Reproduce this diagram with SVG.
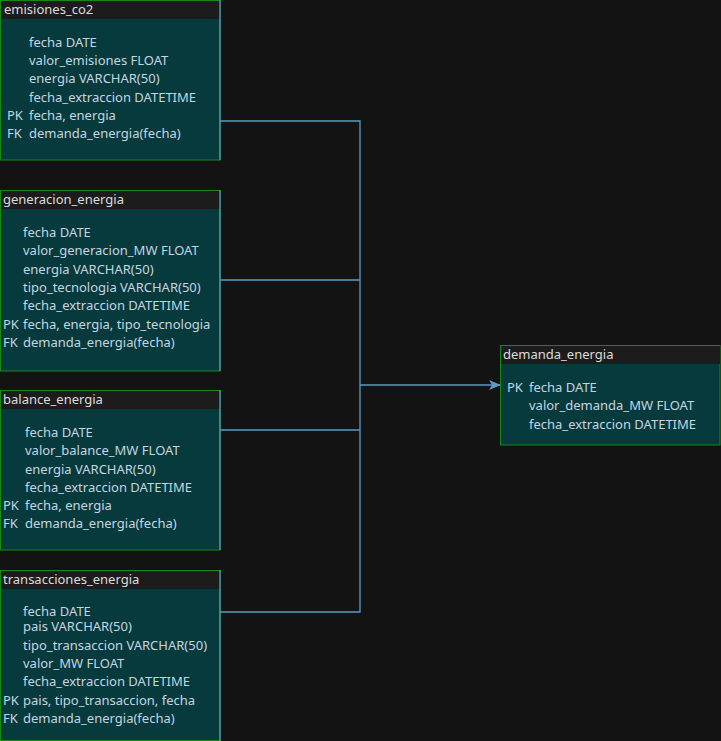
<svg xmlns="http://www.w3.org/2000/svg" width="721" height="741" viewBox="0 0 721 741">
<style>
.body{fill:#073a3d;stroke:#168a16;stroke-width:1}
.hdr{fill:#1c1c1c}
.t{font-family:"Noto Sans","DejaVu Sans",sans-serif;font-size:13px;fill:#c5d5e0}
.h{font-family:"Noto Sans","DejaVu Sans",sans-serif;font-size:13px;fill:#dcdcdc}
.c{fill:none;stroke:#5a9bc4;stroke-width:1.3}
</style>
<defs>
<marker id="arr" markerWidth="13" markerHeight="12" refX="12" refY="6" orient="auto" markerUnits="userSpaceOnUse">
<path d="M0,1 L12,6 L0,11 L3,6 Z" fill="#5a9bc4"/>
</marker>
</defs>
<rect width="721" height="741" fill="#131313"/>
<g id="connectors">
<path class="c" d="M220,121 H360 V612 H220"/>
<path class="c" d="M220,280 H360"/>
<path class="c" d="M220,430 H360"/>
<path class="c" d="M360,385 H501" marker-end="url(#arr)"/>
</g>
<g id="emisiones_co2">
<rect class="body" x="0.5" y="0.5" width="219.5" height="159.5"/>
<rect class="hdr" x="1" y="1" width="219" height="18"/>
<line class="c" x1="220" y1="0" x2="220" y2="160"/>
<text class="h" x="4" y="14">emisiones_co2</text>
<text class="t" x="29" y="47">fecha DATE</text>
<text class="t" x="29" y="65">valor_emisiones FLOAT</text>
<text class="t" x="29" y="83">energia VARCHAR(50)</text>
<text class="t" x="29" y="102">fecha_extraccion DATETIME</text>
<text class="t" x="7" y="120">PK</text><text class="t" x="29" y="120">fecha, energia</text>
<text class="t" x="7" y="138">FK</text><text class="t" x="29" y="138">demanda_energia(fecha)</text>
</g>
<g id="generacion_energia">
<rect class="body" x="0.5" y="190.5" width="219.5" height="180.5"/>
<rect class="hdr" x="1" y="191" width="219" height="18"/>
<line class="c" x1="220" y1="190" x2="220" y2="371"/>
<text class="h" x="3" y="204">generacion_energia</text>
<text class="t" x="23" y="237">fecha DATE</text>
<text class="t" x="23" y="255">valor_generacion_MW FLOAT</text>
<text class="t" x="23" y="274">energia VARCHAR(50)</text>
<text class="t" x="23" y="292">tipo_tecnologia VARCHAR(50)</text>
<text class="t" x="23" y="310">fecha_extraccion DATETIME</text>
<text class="t" x="3" y="329">PK</text><text class="t" x="23" y="329">fecha, energia, tipo_tecnologia</text>
<text class="t" x="3" y="347">FK</text><text class="t" x="23" y="347">demanda_energia(fecha)</text>
</g>
<g id="balance_energia">
<rect class="body" x="0.5" y="390.5" width="219.5" height="159.5"/>
<rect class="hdr" x="1" y="391" width="219" height="18"/>
<line class="c" x1="220" y1="390" x2="220" y2="550"/>
<text class="h" x="3" y="404">balance_energia</text>
<text class="t" x="25" y="437">fecha DATE</text>
<text class="t" x="25" y="455">valor_balance_MW FLOAT</text>
<text class="t" x="25" y="474">energia VARCHAR(50)</text>
<text class="t" x="25" y="492">fecha_extraccion DATETIME</text>
<text class="t" x="3" y="510">PK</text><text class="t" x="25" y="510">fecha, energia</text>
<text class="t" x="3" y="528">FK</text><text class="t" x="25" y="528">demanda_energia(fecha)</text>
</g>
<g id="transacciones_energia">
<rect class="body" x="0.5" y="570.5" width="219.5" height="170"/>
<rect class="hdr" x="1" y="571" width="219" height="18"/>
<line class="c" x1="220" y1="570" x2="220" y2="741"/>
<text class="h" x="3" y="584">transacciones_energia</text>
<text class="t" x="23" y="616">fecha DATE</text>
<text class="t" x="23" y="631">pais VARCHAR(50)</text>
<text class="t" x="23" y="650">tipo_transaccion VARCHAR(50)</text>
<text class="t" x="23" y="668">valor_MW FLOAT</text>
<text class="t" x="23" y="686">fecha_extraccion DATETIME</text>
<text class="t" x="3" y="705">PK</text><text class="t" x="23" y="705">pais, tipo_transaccion, fecha</text>
<text class="t" x="3" y="723">FK</text><text class="t" x="23" y="723">demanda_energia(fecha)</text>
</g>
<g id="demanda_energia">
<rect class="body" x="500.5" y="345.5" width="219.5" height="99.5"/>
<rect class="hdr" x="501" y="346" width="219" height="18"/>
<text class="h" x="503" y="359">demanda_energia</text>
<text class="t" x="507" y="392">PK</text><text class="t" x="529" y="392">fecha DATE</text>
<text class="t" x="529" y="410">valor_demanda_MW FLOAT</text>
<text class="t" x="529" y="429">fecha_extraccion DATETIME</text>
</g>
</svg>
